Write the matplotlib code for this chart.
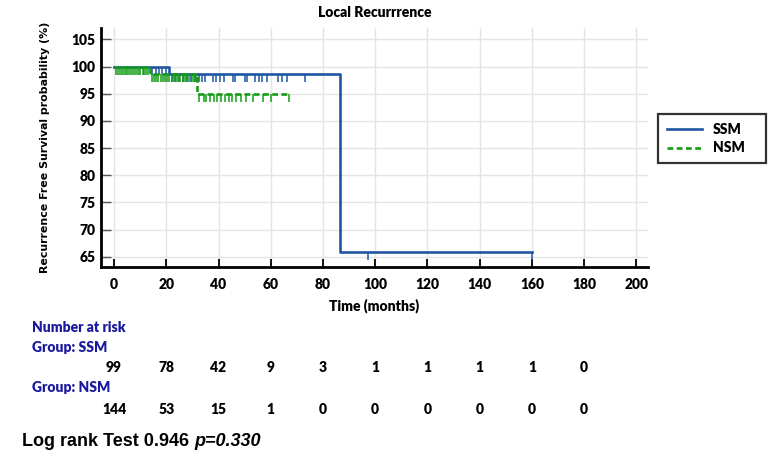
import numpy as np
import matplotlib
matplotlib.use("Agg")
import matplotlib.pyplot as plt
import matplotlib.transforms as mtransforms

# ========== DATA ==========

# Kaplan-Meier step points (months, survival %)
ssm_times = [0, 21.0, 86.5, 160.0]
ssm_surv = [100, 98.7, 65.9, 65.9]
nsm_times = [0, 13.8, 31.8, 67.0]
nsm_surv = [100, 98.6, 95.0, 95.0]

# censored observations (months)
ssm_censor = [14.7, 15.9, 17.2, 18.4, 19.8,
              22.0, 23.5, 25.0, 26.5, 28.0, 29.5, 31.0, 32.5, 33.5, 35.0,
              37.7, 39.0, 40.6, 42.1, 45.4, 46.3, 50.1, 51.1, 54.0, 55.5,
              56.8, 58.4, 62.6, 64.5, 66.4, 73.1, 97.3, 160.0]
nsm_censor = [0.6, 1.4, 2.3, 3.0, 3.8, 4.5, 5.1, 5.9, 6.6, 7.2, 8.0, 8.7,
              9.5, 10.1, 10.9, 11.6, 12.4, 13.1,
              14.5, 15.3, 16.1, 17.0, 17.8, 18.6, 19.5, 20.3, 21.1, 22.0,
              22.8, 23.7, 24.5, 25.4, 26.3, 27.1, 28.0, 28.8, 29.7, 30.5, 31.3,
              32.6, 34.3, 35.3, 36.8, 38.1, 39.4, 41.0, 42.5, 43.9, 45.2,
              46.7, 48.6, 50.5, 53.4, 57.2, 60.1, 67.0]

risk_times = [0, 20, 40, 60, 80, 100, 120, 140, 160, 180]
ssm_risk = [99, 78, 42, 9, 3, 1, 1, 1, 1, 0]
nsm_risk = [144, 53, 15, 1, 0, 0, 0, 0, 0, 0]

log_rank = "0.946"
p_value = "0.330"

BLUE = "#1f56a3"
GREEN = "#159c15"
NAVY = "#1a1a9e"
LABEL_FONT = ["Lato", "DejaVu Sans"]
FS = 10


def surv_at(times, surv, t):
    idx = np.searchsorted(times, t, side="right") - 1
    return np.asarray(surv)[idx]


# ========== PLOT ==========

fig = plt.figure(figsize=(7.8, 4.62), dpi=100)
ax = fig.add_axes([0.1295, 0.4221, 0.7013, 0.5173])

ax.step(ssm_times, ssm_surv, where="post", color=BLUE, lw=1.9, label="SSM", zorder=3)
ax.plot(ssm_censor, surv_at(ssm_times, ssm_surv, ssm_censor), ls="none",
        marker=3, ms=6, mew=1.1, color=BLUE, zorder=3)

ax.step(nsm_times, nsm_surv, where="post", color=GREEN, lw=1.9,
        ls=(0, (2.2, 1.3)), label="NSM", zorder=4)
ax.plot(nsm_censor, surv_at(nsm_times, nsm_surv, nsm_censor), ls="none",
        marker=3, ms=6, mew=1.1, color=GREEN, zorder=4)

ax.set_xlim(-5, 204.5)
ax.set_ylim(63.1, 107.1)
ax.set_xticks(range(0, 201, 20))
ax.set_yticks(range(65, 106, 5))
ax.grid(True, color="#e4e4e4", lw=1.0, zorder=0)

for side in ["top", "right"]:
    ax.spines[side].set_visible(False)
for side in ["left", "bottom"]:
    ax.spines[side].set_linewidth(2.0)

ax.tick_params(axis="x", direction="in", length=6, width=1.3, pad=8,
               labelsize=FS)
ax.tick_params(axis="y", direction="in", length=7.5, width=1.0, pad=4,
               color="#555555", labelsize=FS)
for lab in ax.get_xticklabels() + ax.get_yticklabels():
    lab.set_family(LABEL_FONT)
    lab.set_fontweight("heavy")

ax.set_title("Local Recurrrence", family=LABEL_FONT, fontweight="heavy",
             fontsize=FS, pad=8)
ax.set_xlabel("Time (months)", family=LABEL_FONT, fontweight="heavy",
              fontsize=FS, labelpad=5)
ax.set_ylabel("Recurrence Free Survival probability (%)", family="DejaVu Sans",
              fontweight="bold", fontsize=7.9, labelpad=15)

leg = fig.legend(loc="center left", bbox_to_anchor=(0.8436, 0.60, 0.1385, 0.2),
                 mode="expand", borderaxespad=0, frameon=True, fancybox=False,
                 handlelength=2.5, handletextpad=0.8, borderpad=0.65,
                 labelspacing=0.4,
                 prop={"family": LABEL_FONT, "weight": "heavy", "size": FS})
leg.get_frame().set_edgecolor("black")
leg.get_frame().set_linewidth(1.6)

# number at risk table
trans = mtransforms.blended_transform_factory(ax.transData, fig.transFigure)
fig.text(32 / 780, 1 - 327 / 462, "Number at risk", color=NAVY, family=LABEL_FONT,
         fontweight="heavy", fontsize=FS, va="center")
fig.text(32 / 780, 1 - 348 / 462, "Group: SSM", color=NAVY, family=LABEL_FONT,
         fontweight="heavy", fontsize=FS, va="center")
fig.text(32 / 780, 1 - 388 / 462, "Group: NSM", color=NAVY, family=LABEL_FONT,
         fontweight="heavy", fontsize=FS, va="center")
for t, n1, n2 in zip(risk_times, ssm_risk, nsm_risk):
    ax.text(t, 1 - 368 / 462, str(n1), transform=trans, ha="center", va="center",
            family=LABEL_FONT, fontweight="heavy", fontsize=FS)
    ax.text(t, 1 - 409 / 462, str(n2), transform=trans, ha="center", va="center",
            family=LABEL_FONT, fontweight="heavy", fontsize=FS)

# log rank line
t1 = fig.text(22 / 780, 1 - 441 / 462, f"Log rank Test {log_rank} ",
              family="Liberation Sans", fontweight="bold", fontsize=13, va="center")
fig.canvas.draw()
bb = t1.get_window_extent()
fig.text(bb.x1 / fig.bbox.width, 1 - 441 / 462, f"p={p_value}",
         family="Liberation Sans", fontweight="bold", style="italic",
         fontsize=13, va="center")

fig.savefig("out.png", dpi=100)
